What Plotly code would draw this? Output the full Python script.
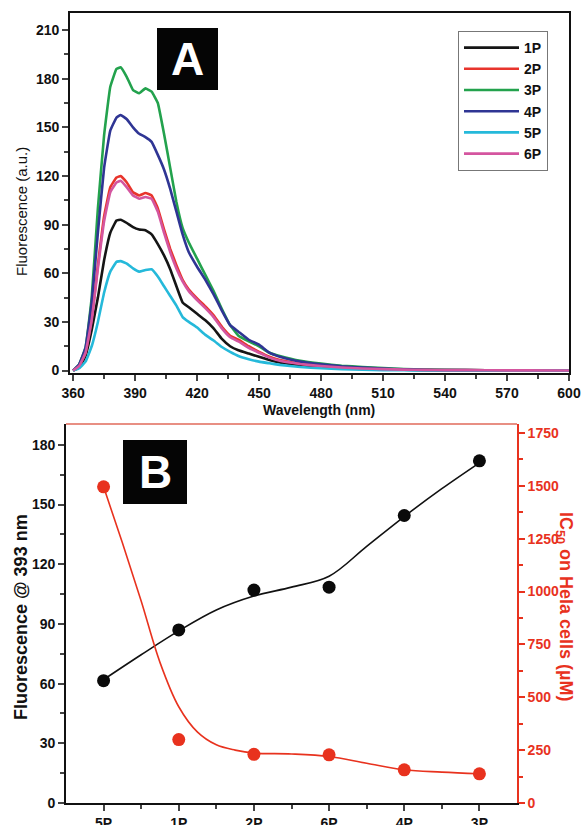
import plotly.graph_objects as go

# ---------------- Panel A data ----------------
wavelength = [360, 363, 366, 369, 372, 375, 378, 381, 383, 386, 389, 392, 395, 398, 401, 404, 407,
              410, 413, 416, 420, 424, 428, 432, 436, 440, 445, 450, 455, 460, 470, 480, 490, 500,
              510, 520, 530, 540, 560, 580, 600]

p1 = [0, 2, 9, 25, 45, 68, 85, 92.5, 93, 91, 88.5, 87, 86.5, 84, 78, 71, 62.5,
      52, 42, 39, 35, 31, 26, 19.5, 15, 12.5, 10.5, 8.5, 6.5, 5, 3.3, 2.2, 1.5, 1,
      0.7, 0.5, 0.3, 0.2, 0.1, 0.1, 0]
p2 = [0, 3, 11, 32, 65, 95, 113, 119, 120, 116, 110, 108, 109.5, 108, 100, 87, 75,
      65, 56, 50, 44.5, 39.5, 34, 27, 21.5, 19, 15, 11.5, 8.5, 6.5, 4.3, 3, 2, 1.4,
      1, 0.7, 0.4, 0.3, 0.2, 0.1, 0]
p3 = [0, 4, 14, 45, 100, 145, 175, 186, 187, 181, 173, 171, 174, 172, 165, 146, 125,
      104, 88, 79, 69, 59, 49, 38, 28, 21.5, 18, 15, 11, 9, 6, 4.3, 3, 2.2,
      1.6, 1, 0.6, 0.4, 0.2, 0.1, 0]
p4 = [0, 4, 14, 42, 85, 125, 148, 156, 157.6, 155, 150, 146, 144, 141, 133, 124, 112,
      98, 84, 73, 64, 56, 47, 37, 28, 24, 19, 16, 11, 8.5, 5.5, 3.8, 2.6, 1.8,
      1.2, 0.8, 0.5, 0.3, 0.2, 0.1, 0]
p5 = [0, 1.5, 5.5, 15, 30, 48, 61, 67, 67.5, 66, 63, 61, 62, 62.5, 58, 52, 46,
      40, 33, 30, 26.5, 22, 18.5, 14.5, 11.5, 9, 7, 5.5, 4.5, 3.5, 2.2, 1.4, 0.8, 0.5,
      0.3, 0.2, 0.1, 0.1, 0, 0, 0]
p6 = [0, 3, 11, 31, 63, 92, 110, 116, 117, 113, 108, 106, 107, 106, 98, 85, 73,
      63, 55, 49, 43.5, 38.5, 33, 26, 20.5, 18, 14, 11, 8, 6, 4, 2.8, 1.9, 1.3,
      0.9, 0.6, 0.4, 0.3, 0.2, 0.1, 0]

series_names = ["1P", "2P", "3P", "4P", "5P", "6P"]
series_values = [p1, p2, p3, p4, p5, p6]
series_colors = ["#151515", "#e8342c", "#23a24d", "#2f3594", "#25b9da", "#d4559f"]

xticks_a = [360, 390, 420, 450, 480, 510, 540, 570, 600]
yticks_a = [0, 30, 60, 90, 120, 150, 180, 210]

# ---------------- Panel B data ----------------
categories = ["5P", "1P", "2P", "6P", "4P", "3P"]
cat_pos = [0, 1, 2, 3, 4, 5]
fluor_393 = [61.5, 87, 107, 108.5, 144.5, 172]
ic50 = [1495, 300, 230, 228, 157, 138]

# fitted curves (category index -> value)
fit_fluor_x = [0, 0.5, 1, 1.5, 2, 2.5, 3, 3.5, 4, 4.5, 5]
fit_fluor_y = [62, 74.5, 86.5, 97, 104, 108.5, 114, 129, 144, 158, 171]
fit_ic50_x = [0, 0.25, 0.5, 0.75, 1, 1.25, 1.5, 1.75, 2, 2.5, 3, 3.5, 4, 4.5, 5]
fit_ic50_y = [1495, 1230, 955, 665, 455, 335, 275, 250, 236, 232, 220, 188, 157, 146, 138]

yticks_b_left = [0, 30, 60, 90, 120, 150, 180]
yticks_b_right = [0, 250, 500, 750, 1000, 1250, 1500, 1750]

RED = "#e8321e"
FONT = "Liberation Sans"

fig = go.Figure()

for name, vals, col in zip(series_names, series_values, series_colors):
    fig.add_trace(go.Scatter(x=wavelength, y=vals, mode="lines", name=name,
                             line=dict(color=col, width=2.6, shape="spline", smoothing=0.3),
                             xaxis="x", yaxis="y", showlegend=True))

# Panel B
fig.add_trace(go.Scatter(x=fit_fluor_x, y=fit_fluor_y, mode="lines",
                         line=dict(color="#111111", width=1.6, shape="spline", smoothing=1.0),
                         xaxis="x2", yaxis="y2", showlegend=False))
fig.add_trace(go.Scatter(x=cat_pos, y=fluor_393, mode="markers",
                         marker=dict(color="#0a0a0a", size=13),
                         xaxis="x2", yaxis="y2", showlegend=False))
fig.add_trace(go.Scatter(x=fit_ic50_x, y=fit_ic50_y, mode="lines",
                         line=dict(color=RED, width=1.6, shape="spline", smoothing=1.0),
                         xaxis="x2", yaxis="y3", showlegend=False))
fig.add_trace(go.Scatter(x=cat_pos, y=ic50, mode="markers",
                         marker=dict(color=RED, size=13),
                         xaxis="x2", yaxis="y3", showlegend=False))

W, H = 583, 825
def px(x):
    return x / W
def py(y):
    return 1 - y / H

tickfont = dict(family=FONT, size=14, color="#111111", weight="bold")

fig.update_layout(
    template="none",
    width=W, height=H,
    margin=dict(l=0, r=0, t=0, b=0, autoexpand=False),
    paper_bgcolor="white", plot_bgcolor="white",
    font=dict(family=FONT, color="#111111"),
    xaxis=dict(domain=[px(70), px(569)], range=[358.5, 600], anchor="y", automargin=False,
               tickmode="array", tickvals=xticks_a, ticks="outside", ticklen=6, tickwidth=1.5,
               minor=dict(ticks="outside", dtick=15, tick0=360, ticklen=4, tickwidth=1.5),
               showline=True, linecolor="#111111", linewidth=1.6, mirror=True,
               showgrid=False, zeroline=False, tickfont=tickfont),
    yaxis=dict(domain=[py(373), py(13)], range=[-1.5, 220.5], anchor="x", automargin=False,
               tickmode="array", tickvals=yticks_a, ticks="outside", ticklen=6, tickwidth=1.5,
               minor=dict(ticks="outside", dtick=15, tick0=0, ticklen=4, tickwidth=1.5),
               showline=True, linecolor="#111111", linewidth=1.6, mirror=True,
               showgrid=False, zeroline=False, tickfont=tickfont),
    xaxis2=dict(domain=[px(66), px(517)], range=[-0.5, 5.5], anchor="y2", automargin=False,
                tickmode="array", tickvals=cat_pos, ticktext=categories,
                ticks="outside", ticklen=6, tickwidth=1.5,
                minor=dict(ticks="outside", tickmode="array", tickvals=[0.5, 1.5, 2.5, 3.5, 4.5],
                           ticklen=4, tickwidth=1.5),
                showline=True, linecolor="#111111", linewidth=1.6, mirror=False,
                showgrid=False, zeroline=False, tickfont=tickfont),
    yaxis2=dict(domain=[py(803), py(424)], range=[0, 190.5], anchor="x2", automargin=False,
                tickmode="array", tickvals=yticks_b_left, ticks="outside", ticklen=6, tickwidth=1.5,
                minor=dict(ticks="outside", dtick=15, tick0=0, ticklen=4, tickwidth=1.5),
                showline=True, linecolor="#111111", linewidth=1.6,
                showgrid=False, zeroline=False, tickfont=tickfont),
    yaxis3=dict(range=[0, 1792], overlaying="y2", side="right", anchor="x2", automargin=False,
                tickmode="array", tickvals=yticks_b_right, ticks="outside", ticklen=6, tickwidth=1.5,
                minor=dict(ticks="outside", dtick=125, tick0=0, ticklen=4, tickwidth=1.5),
                tickcolor=RED, showline=True, linecolor=RED, linewidth=1.6,
                showgrid=False, zeroline=False,
                tickfont=dict(family=FONT, size=14, color=RED, weight="bold")),
    legend=dict(x=px(458), y=py(31), xanchor="left", yanchor="top",
                bgcolor="white", bordercolor="#777777", borderwidth=1,
                font=dict(family=FONT, size=14, color="#111111", weight="bold"),
                tracegroupgap=0, itemwidth=55),
    showlegend=True,
)

# top frame line of panel B (reddish)
fig.add_shape(type="line", xref="paper", yref="paper",
              x0=px(66), x1=px(517), y0=py(424), y1=py(424),
              line=dict(color="#e06a5a", width=1.6))

# Panel label boxes
fig.add_shape(type="rect", xref="paper", yref="paper",
              x0=px(157), x1=px(218), y0=py(90), y1=py(28),
              fillcolor="#050505", line=dict(width=0))
fig.add_shape(type="rect", xref="paper", yref="paper",
              x0=px(123), x1=px(187), y0=py(504), y1=py(440),
              fillcolor="#050505", line=dict(width=0))

annotations = [
    dict(text="A", x=px(187.5), y=py(59), font=dict(family=FONT, size=46, color="white", weight="bold")),
    dict(text="B", x=px(155), y=py(472), font=dict(family=FONT, size=46, color="white", weight="bold")),
    dict(text="Wavelength (nm)", x=px(319), y=py(410),
         font=dict(family=FONT, size=14, color="#111111", weight="bold")),
    dict(text="Fluorescence (a.u.)", x=px(21), y=py(212), textangle=-90,
         font=dict(family=FONT, size=15, color="#111111")),
    dict(text="Fluorescence @ 393 nm", x=px(21), y=py(617), textangle=-90,
         font=dict(family=FONT, size=18, color="#111111", weight="bold")),
    dict(text="IC<sub>50</sub> on Hela cells (µM)", x=px(565), y=py(606), textangle=90,
         font=dict(family=FONT, size=18, color=RED, weight="bold")),
]
for a in annotations:
    a.update(xref="paper", yref="paper", showarrow=False, xanchor="center", yanchor="middle")
    fig.add_annotation(**a)

fig.write_html("out.html",
               config={"displayModeBar": False},
               post_script="document.body.style.margin='0';document.body.style.overflow='hidden';")
